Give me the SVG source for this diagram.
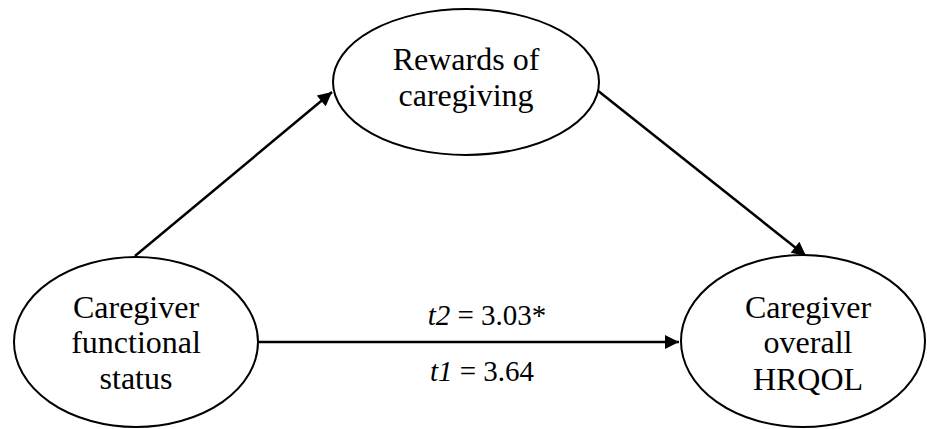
<svg xmlns="http://www.w3.org/2000/svg" width="927" height="429" viewBox="0 0 927 429">
<defs>
<style>
.node ellipse{fill:#fff;stroke:#000;stroke-width:2}
.lbl{font-family:"Liberation Serif","Times New Roman",serif;font-size:32px;fill:#000;text-anchor:middle}
.edgelabel{font-family:"Liberation Serif","Times New Roman",serif;font-size:29px;fill:#000;text-anchor:middle}
.edge{stroke:#000;stroke-width:2.5;fill:none;marker-end:url(#ah)}
</style>
<marker id="ah" viewBox="0 0 10 10" refX="10" refY="5" markerWidth="6.4" markerHeight="5.6" markerUnits="strokeWidth" orient="auto">
<path d="M0,0 L10,5 L0,10 z" fill="#000"/>
</marker>
</defs>
<rect width="927" height="429" fill="#fff"/>
<g id="connectors">
<line class="edge" x1="135" y1="256" x2="332" y2="92"/>
<line class="edge" x1="597" y1="90" x2="806" y2="256"/>
<line class="edge" x1="258" y1="342" x2="679" y2="342"/>
<text class="edgelabel" x="487" y="325" font-family="Liberation Serif, Times New Roman, serif" font-size="29"><tspan font-style="italic">t2</tspan> = 3.03*</text>
<text class="edgelabel" x="482" y="381" font-family="Liberation Serif, Times New Roman, serif" font-size="29"><tspan font-style="italic">t1</tspan> = 3.64</text>
</g>
<g id="rewards" class="node">
<ellipse cx="466" cy="82" rx="133" ry="73"/>
<text class="lbl" x="466" y="70">Rewards of</text>
<text class="lbl" x="466" y="106">caregiving</text>
</g>
<g id="functional" class="node">
<ellipse cx="136" cy="342" rx="122" ry="85"/>
<text class="lbl" x="136" y="318">Caregiver</text>
<text class="lbl" x="136" y="353">functional</text>
<text class="lbl" x="136" y="389">status</text>
</g>
<g id="hrqol" class="node">
<ellipse cx="803" cy="341" rx="122" ry="86"/>
<text class="lbl" x="808" y="318">Caregiver</text>
<text class="lbl" x="808" y="353">overall</text>
<text class="lbl" x="808" y="390">HRQOL</text>
</g>
</svg>
